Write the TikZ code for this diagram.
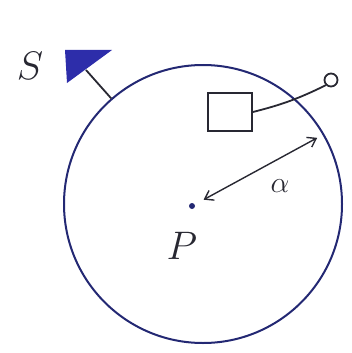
\documentclass[tikz,border=0pt]{standalone}
\usepackage{amsmath,amssymb}
\usepackage{graphicx}
\usepackage{xcolor}
\usepackage{tikz}
\usetikzlibrary{
  arrows.meta,
  positioning,
  shapes.geometric
}
\definecolor{inkblue}{RGB}{35,40,115}
\definecolor{flagblue}{RGB}{45,45,170}
\definecolor{pencil}{RGB}{40,40,50}
\newcommand{\biglbl}[2]{\scalebox{#1}{$#2$}}

\begin{document}
\begin{tikzpicture}[x=1pt,y=-1pt,
  ink/.style ={draw=inkblue,line width=2pt},
  pen/.style ={draw=pencil,line width=1.8pt},
  lbl/.style ={font=\Huge,inner sep=0pt,text=pencil},
  arr/.style ={{Straight Barb[length=8pt,width=11pt]}-{Straight Barb[length=8pt,width=11pt]},
               draw=pencil,line width=1.4pt},
]
\useasboundingbox (0,0) rectangle (351,353);
\node[ink,circle,minimum size=278pt] (region) at (203,204) {};
\node[lbl]   (s)    at (30,66)  {\biglbl{1.6}{S}};
\fill[flagblue] (65,50) -- (112,50) -- (67,83) -- cycle;
\coordinate (flag) at (86,70);
\draw[pen] (flag) -- (region.131);
\node[pen,minimum width=44pt,minimum height=38pt] (box) at (230,112) {};
\node[pen,circle,minimum size=13pt,inner sep=0pt] (loop) at (331,80) {};
\draw[pen] (box.east) to[bend right=6] (loop.south west);
\node[circle,fill=inkblue,minimum size=6pt,inner sep=0pt] (p) at (192,206) {};
\node[lbl]   (plbl) at (182,246) {\biglbl{1.6}{P}};
\draw[arr,shorten <=10pt,shorten >=8pt] (p) -- (region.30);
\node[lbl] (alpha) at (280,186) {\biglbl{1.2}{\alpha}};
\end{tikzpicture}
\end{document}
